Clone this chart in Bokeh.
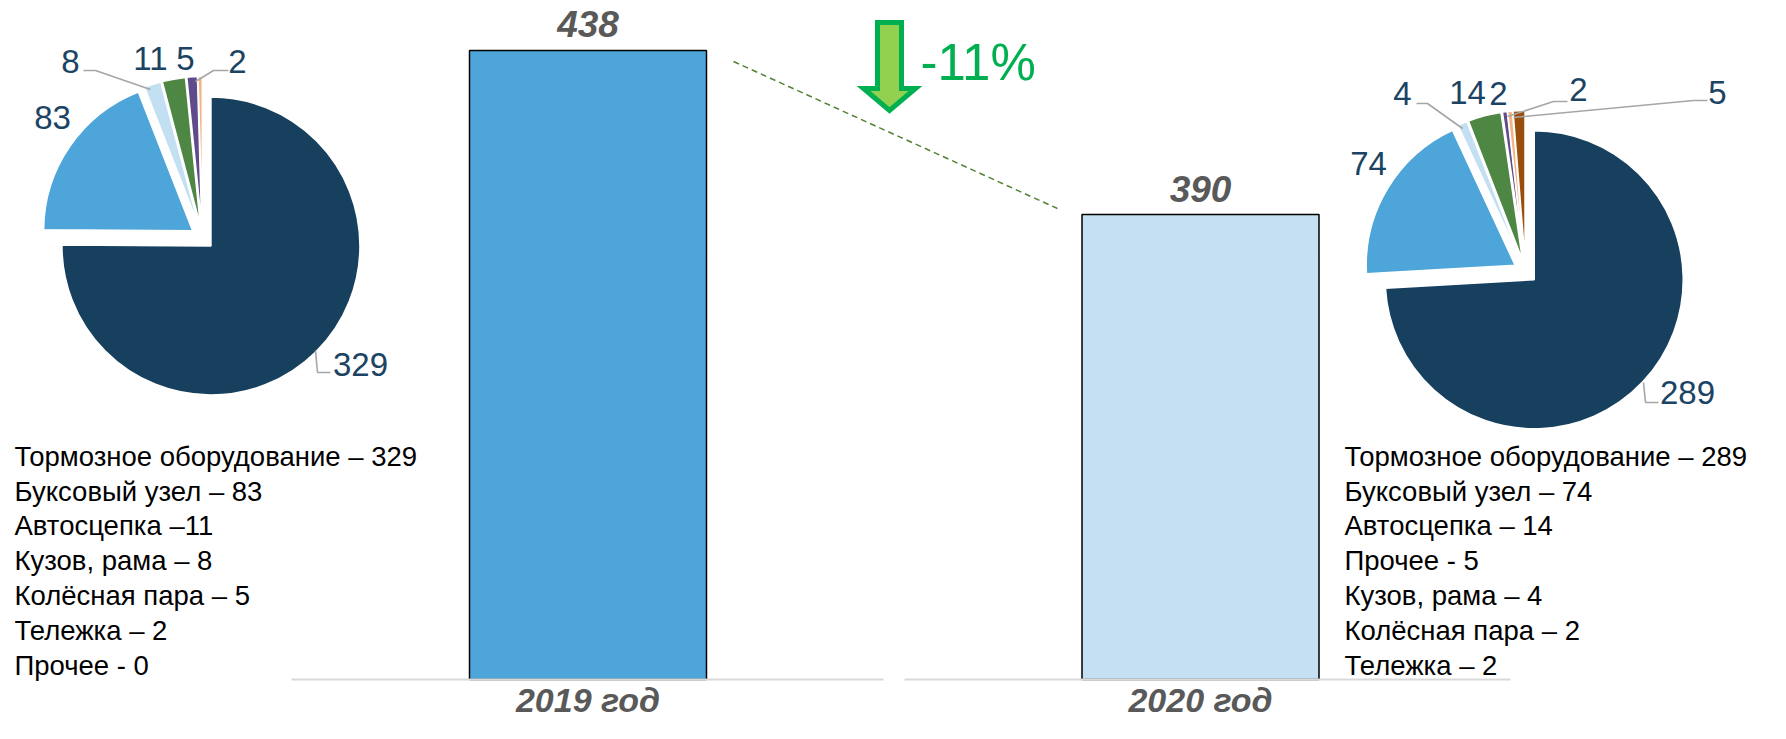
import numpy as np
from bokeh.plotting import figure
from bokeh.models import Range1d, ColumnDataSource
from bokeh.core.properties import value
from bokeh.embed import file_html
from bokeh.resources import INLINE

# ---------------- data ----------------
YEARS = ["2019 год", "2020 год"]
TOTALS = [438, 390]
CHANGE_LABEL = "-11%"
PIE_PARTS = ["Тормозное оборудование", "Буксовый узел", "Кузов, рама", "Автосцепка",
             "Колёсная пара", "Тележка", "Прочее"]
PIE_2019 = [329, 83, 8, 11, 5, 2, 0]
PIE_2020 = [289, 74, 4, 14, 2, 2, 5]
LEGEND_2019 = ["Тормозное оборудование – 329", "Буксовый узел – 83", "Автосцепка –11",
               "Кузов, рама – 8", "Колёсная пара – 5", "Тележка – 2", "Прочее - 0"]
LEGEND_2020 = ["Тормозное оборудование – 289", "Буксовый узел – 74", "Автосцепка – 14",
               "Прочее - 5", "Кузов, рама – 4", "Колёсная пара – 2", "Тележка – 2"]

# ---------------- styles ----------------
PIE_COLORS = ["#17405E", "#4EA5D9", "#C3DFF2", "#4E8743", "#5F4B8B", "#F2B482", "#9A4E0E"]
BAR_COLORS = ["#4EA5D9", "#C4E0F2"]
LABEL_NAVY = "#1B4363"
GRAY_TXT = "#595959"
LEADER = "#A6A6A6"
FONT = value("Liberation Sans")

# ---------------- layout (reference pixel space) ----------------
W, H = 1770, 723


def X(xr):
    return xr


def Y(yr):
    return H - yr


p = figure(width=W, height=H, x_range=Range1d(0, W), y_range=Range1d(0, H),
           output_backend="svg", toolbar_location=None,
           x_axis_location=None, y_axis_location=None, min_border=0)
p.grid.visible = False
p.outline_line_color = None
p.background_fill_color = "white"
p.border_fill_color = "white"

# ---- bar scales ----
BAR_CENTER_REF = (587.5, 1200.0)
BAR_WIDTH_PX = 237
BASE_VALUE = 254          # value at the baseline (axis minimum)
BASE_REF_Y = 679
PX_PER_UNIT = 3.4185
step = BAR_CENTER_REF[1] - BAR_CENTER_REF[0]
bx0 = X(BAR_CENTER_REF[0])
p.extra_x_ranges = {"bx": Range1d(-bx0 / step, (W - bx0) / step)}
bv_start = BASE_VALUE - Y(BASE_REF_Y) / PX_PER_UNIT
p.extra_y_ranges = {"bv": Range1d(bv_start, bv_start + H / PX_PER_UNIT)}

bar_src = ColumnDataSource(dict(x=list(range(len(TOTALS))), top=TOTALS, color=BAR_COLORS,
                                lab=[str(t) for t in TOTALS],
                                laby=[t + 26 / PX_PER_UNIT for t in TOTALS],
                                cat=YEARS))
p.vbar(x="x", top="top", bottom=BASE_VALUE, width=BAR_WIDTH_PX / step, source=bar_src,
       fill_color="color", line_color="black", line_width=1.5,
       x_range_name="bx", y_range_name="bv")
p.text(x="x", y="laby", text="lab", source=bar_src, x_range_name="bx", y_range_name="bv",
       text_font=FONT, text_font_size="37px", text_font_style="bold italic",
       text_color=GRAY_TXT, text_align="center", text_baseline="middle")

# category labels (kept inside the frame)
cat_y_val = bv_start + Y(699) / PX_PER_UNIT
p.text(x="x", y=cat_y_val, text="cat", source=bar_src, x_range_name="bx", y_range_name="bv",
       text_font=FONT, text_font_size="34px", text_font_style="bold italic",
       text_color=GRAY_TXT, text_align="center", text_baseline="middle")

# baselines
p.segment(x0=[X(291), X(904)], y0=[Y(679)] * 2, x1=[X(883), X(1510)], y1=[Y(679)] * 2,
          line_color="#D9D9D9", line_width=2)

# dashed trend line
p.line([X(733), X(1057)], [Y(61), Y(208)], line_color="#548235", line_width=1.5,
       line_dash="6 4")

# arrow
ax = [877, 901, 901, 915, 889, 863, 877]
ay = [22, 22, 88, 88, 110, 88, 88]
p.patch([X(v) for v in ax], [Y(v) for v in ay], fill_color="#92D050",
        line_color="#00B050", line_width=5, line_join="miter")
p.text(x=[X(920)], y=[Y(62)], text=[CHANGE_LABEL], text_font=FONT, text_font_size="51px",
       text_color="#00B050", text_align="left", text_baseline="middle")


# ---- pies ----
def draw_pie(vals, cx, cy, r, explode, label_pos, leaders):
    total = float(sum(vals))
    cum = np.concatenate([[0.0], np.cumsum(vals)]) / total * 2 * np.pi
    d = dict(x=[], y=[], s=[], e=[], c=[])
    for i, v in enumerate(vals):
        if v == 0:
            continue
        t1, t2 = cum[i], cum[i + 1]
        mid = (t1 + t2) / 2
        d["x"].append(X(cx) + explode * np.sin(mid))
        d["y"].append(Y(cy) + explode * np.cos(mid))
        d["s"].append(np.pi / 2 - t2)
        d["e"].append(np.pi / 2 - t1)
        d["c"].append(PIE_COLORS[i])
    p.wedge(x="x", y="y", radius=r, start_angle="s", end_angle="e", source=ColumnDataSource(d),
            fill_color="c", line_color="white", line_width=1.5)
    xs = [[X(a) for a, b in ln] for ln in leaders]
    ys = [[Y(b) for a, b in ln] for ln in leaders]
    p.multi_line(xs, ys, line_color=LEADER, line_width=1.6)
    lx, ly, lt = [], [], []
    for v, pos in zip(vals, label_pos):
        if v == 0 or pos is None:
            continue
        lx.append(X(pos[0]))
        ly.append(Y(pos[1]))
        lt.append(str(v))
    p.text(x=lx, y=ly, text=lt, text_font=FONT, text_font_size="33px", text_color=LABEL_NAVY,
           text_align="center", text_baseline="middle")


draw_pie(PIE_2019, 202, 237, 149, 12,
         [(360, 364), (52, 117), (70, 61), (150, 58), (185, 58), (237, 61), None],
         [[(83, 70), (95, 70), (150, 89)],
          [(228, 70), (213, 70), (195, 81)],
          [(330, 372), (317, 372), (315, 350)]])
draw_pie(PIE_2020, 1525, 271, 149, 12,
         [(1687, 392), (1368, 163), (1402, 93), (1467, 92), (1498, 93), (1578, 89), (1717, 92)],
         [[(1416, 103), (1427, 103), (1462, 128)],
          [(1567, 101), (1553, 101), (1507, 116)],
          [(1707, 100), (1693, 100), (1513, 117)],
          [(1658, 402), (1645, 402), (1643, 382)]])


# ---- legends ----
def draw_legend(lines, x0):
    p.text(x=[X(x0)] * len(lines), y=[Y(455.6 + 34.9 * k) for k in range(len(lines))],
           text=lines, text_font=FONT, text_font_size="27.5px", text_color="black",
           text_align="left", text_baseline="middle")


draw_legend(LEGEND_2019, 14)
draw_legend(LEGEND_2020, 1344)

open("out.html", "w").write(file_html(p, INLINE))
